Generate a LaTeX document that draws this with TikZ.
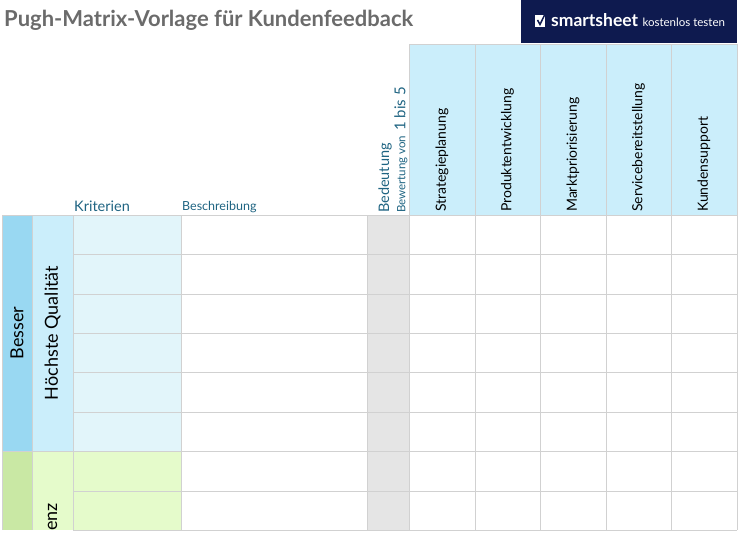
\documentclass[tikz,border=0pt]{standalone}
\usepackage{fontspec}
\setmainfont{Lato}
\begin{document}
\begin{tikzpicture}[x=1pt,y=-1pt,
  every node/.style={inner sep=0pt},
  grid/.style={draw=black!18,line width=0.8pt},
  headtext/.style={rotate=90,anchor=west,font=\fontsize{14}{16}\selectfont},
  colhead/.style={text=headblue}
]
  \useasboundingbox (0,0) rectangle (739,533);
  \definecolor{navy}{HTML}{0E1A4F}
  \definecolor{skyhead}{HTML}{CBEEFB}
  \definecolor{bessercol}{HTML}{99D8F2}
  \definecolor{critblue}{HTML}{E2F5FA}
  \definecolor{greendark}{HTML}{C9E8A4}
  \definecolor{greenlight}{HTML}{E5FBCB}
  \definecolor{titlegray}{HTML}{6B6B6B}
  \definecolor{headblue}{HTML}{1F6482}

  % title and logo
  \node[anchor=west,font=\bfseries\fontsize{22}{24}\selectfont,text=titlegray] (title) at (4,20) {Pugh-Matrix-Vorlage für Kundenfeedback};
  \fill[navy] (521,0) rectangle (737,43);
  \node[anchor=west,text=white,font=\bfseries\fontsize{17.5}{19}\selectfont] (logo) at (551,20) {smartsheet};
  \node[anchor=base west,text=white,font=\fontsize{11.5}{13}\selectfont] (logotxt) at ([xshift=4pt]logo.base east) {kostenlos testen};
  \fill[white] (535,15) rectangle (545,27);
  \draw[navy,line width=1.5pt] (537.5,20) -- (540,24.5) -- (546,12);

  % fills
  \fill[skyhead] (409,44) rectangle (737,215);
  \fill[bessercol] (2,215) rectangle (32,451);
  \fill[skyhead] (32,215) rectangle (73,451);
  \fill[critblue] (73,215) rectangle (181,451);
  \fill[greendark] (2,451) rectangle (32,530);
  \fill[greenlight] (32,451) rectangle (181,530);
  \fill[black!10] (367,215) rectangle (409,530);

  % grid
  \foreach \y in {215,254,294,333,372,412,451,491,530}
    \draw[grid] (73,\y) -- (737,\y);
  \draw[grid] (2,215) -- (73,215);
  \draw[grid] (2,451) -- (73,451);
  \foreach \x in {2,32,73,181,367}
    \draw[grid] (\x,215) -- (\x,530);
  \foreach \x in {409,475,540,606,671,737}
    \draw[grid] (\x,44) -- (\x,530);
  \draw[grid] (409,44) -- (737,44);

  % column heads
  \node[anchor=south west,colhead,font=\fontsize{14.5}{16}\selectfont] (krit) at (74,212) {Kriterien};
  \node[anchor=south west,colhead,font=\fontsize{12.5}{14}\selectfont] (beschr) at (182,213) {Beschreibung};
  \node[headtext,colhead,font=\fontsize{14.5}{16}\selectfont] (bed) at (385,213) {Bedeutung};
  \node[headtext,colhead,font=\fontsize{11.5}{13}\selectfont] (bew) at (401,213) {Bewertung von\hspace{5pt}{\fontsize{15}{17}\selectfont 1 bis 5}};
  \foreach \x/\t in {442/Strategieplanung,507.5/Produktentwicklung,573/Marktpriorisierung,638.5/Servicebereitstellung,704/Kundensupport}
    \node[headtext] at (\x,212) {\t};

  % row group labels
  \node[rotate=90,font=\fontsize{18}{20}\selectfont] (besser) at (17,333) {Besser};
  \node[rotate=90,font=\fontsize{18}{20}\selectfont] (qual) at (52.5,333) {Höchste Qualität};
  \node[rotate=90,anchor=west,font=\fontsize{18}{20}\selectfont] (ref) at (52.5,531) {enz};
\end{tikzpicture}
\end{document}
